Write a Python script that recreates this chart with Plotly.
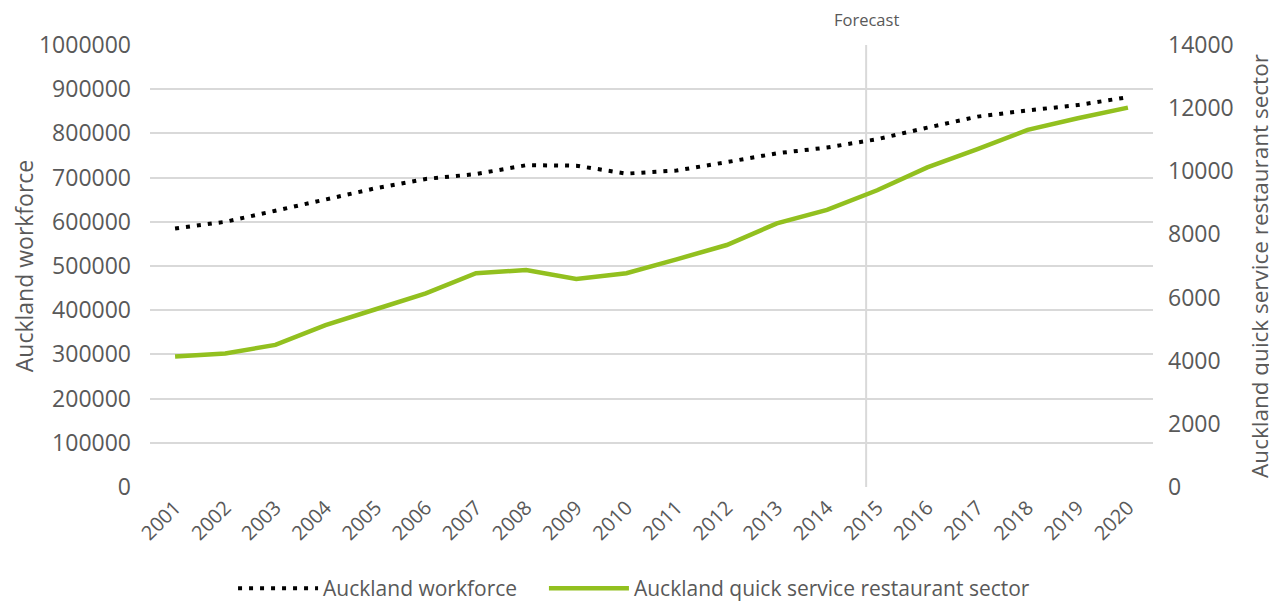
import plotly.graph_objects as go

# data
years = list(range(2001, 2021))
workforce = [585000, 600000, 625000, 651000, 676000, 697000, 708000, 728000, 727000, 709000,
             716000, 735000, 755000, 768000, 787000, 813000, 838000, 852000, 864000, 882000]
qsr_sector = [4130, 4230, 4500, 5130, 5630, 6135, 6770, 6870, 6590, 6770,
              7210, 7665, 8350, 8775, 9400, 10125, 10700, 11310, 11680, 12015]
forecast_x = 2014.78

GREY = "#595959"
GRID = "#d9d9d9"
FONT = "Open Sans"

fig = go.Figure()

fig.add_trace(go.Scatter(
    x=years, y=workforce, mode="lines", name="Auckland workforce\u00a0\u00a0\u00a0\u00a0",
    line=dict(color="black", width=4, dash="4px,7px"),
))
fig.add_trace(go.Scatter(
    x=years, y=qsr_sector, mode="lines", name="Auckland quick service restaurant sector",
    line=dict(color="#92c01f", width=4.5), yaxis="y2",
))

# forecast divider
fig.add_shape(type="line", xref="x", yref="paper", x0=forecast_x, x1=forecast_x, y0=0, y1=1,
              line=dict(color=GRID, width=2), layer="below")
fig.add_annotation(x=forecast_x, y=1.0, xref="x", yref="paper", yanchor="bottom", yshift=12,
                   text="Forecast", showarrow=False, font=dict(size=16.5, color=GREY))

# page body adds an 8px margin, so the figure is sized/offset for that
fig.update_layout(
    width=1269, height=593,
    margin=dict(l=142, r=124, t=37, b=114, autoexpand=False),
    plot_bgcolor="white", paper_bgcolor="white",
    font=dict(family=FONT, color=GREY, size=21),
    xaxis=dict(
        range=[2000.5, 2020.5], tickvals=years, ticktext=[str(y) for y in years],
        tickangle=-45, showgrid=False, zeroline=False, showline=False,
        tickfont=dict(size=20, color=GREY), automargin=False, ticklabelstandoff=4,
    ),
    yaxis=dict(
        title=dict(text="Auckland workforce", font=dict(size=23, color=GREY), standoff=0),
        range=[0, 1000000], dtick=100000, tickformat="d",
        showgrid=True, gridcolor=GRID, gridwidth=2, zeroline=False,
        tickfont=dict(size=23, color=GREY), ticks="", automargin=False, ticklabelstandoff=18,
    ),
    yaxis2=dict(
        title=dict(text="Auckland quick service restaurant sector", font=dict(size=22.5, color=GREY), standoff=19),
        range=[0, 14000], dtick=2000, tickformat="d", overlaying="y", side="right",
        showgrid=False, zeroline=False, tickfont=dict(size=23, color=GREY),
        automargin=False, ticklabelstandoff=14,
    ),
    legend=dict(
        orientation="h", x=0.4826, xanchor="center",
        y=-0.276, yanchor="bottom", font=dict(size=21, color=GREY), itemwidth=80,
    ),
    showlegend=True,
)

fig.write_html("out.html")
